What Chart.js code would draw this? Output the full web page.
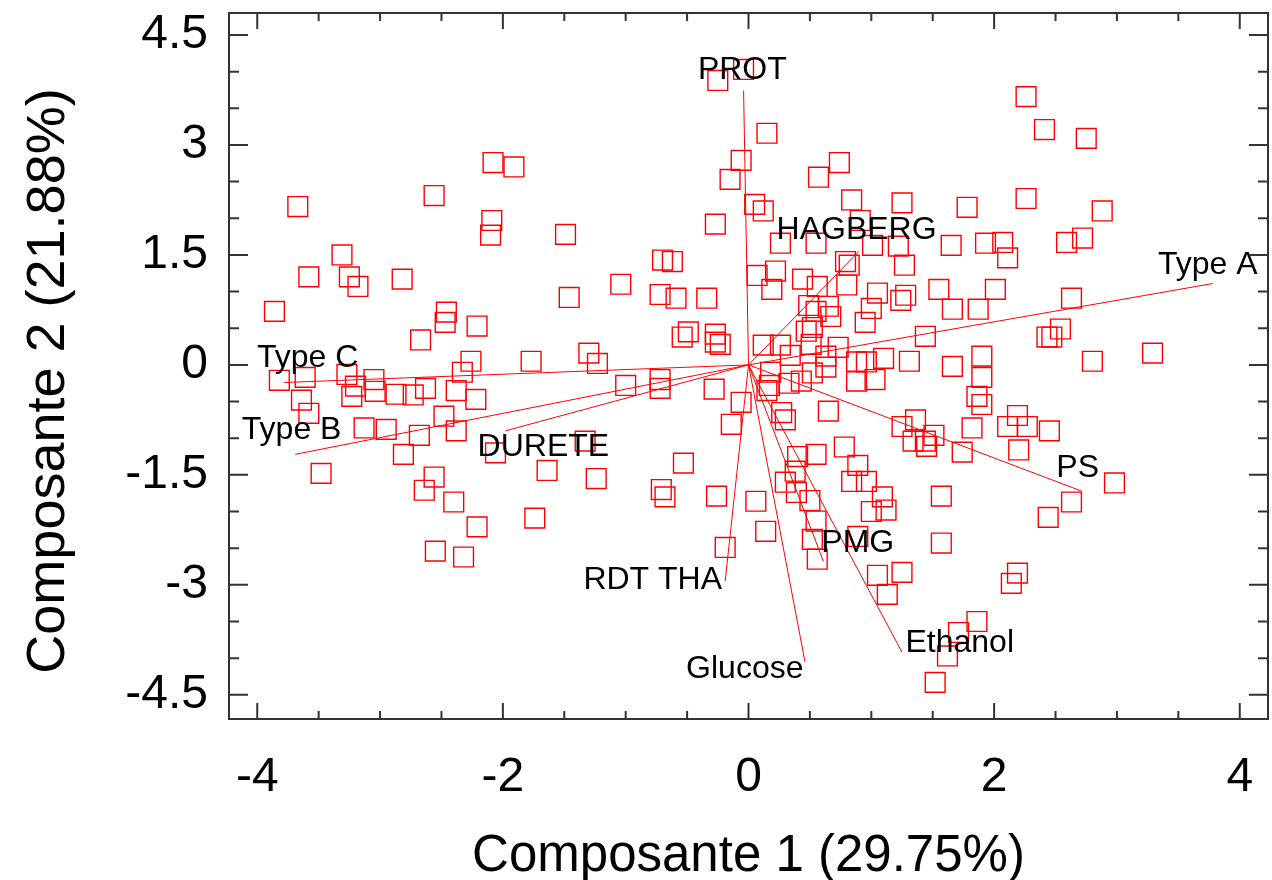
<!DOCTYPE html>
<html lang="fr">
<head>
	<meta charset="UTF-8">
	<title>ACP - biplot</title>
	<script src="https://cdn.jsdelivr.net/npm/chart.js"></script>
	<style>
		body { margin: 0; background: #fff; }
		canvas { display: block; }
	</style>
</head>
<body>
	<canvas id="biplot" width="1272" height="880"></canvas>
<script>
	// scores of the individuals (Composante 1, Composante 2)
	const scoreX = [
		-0.25, -0.04, 0.15, -0.06, -0.15, -0.27, 0.74, 0.57, 0.84, 0.91,
		1.25, 1.78, 0.05, 0.12, 2.26, 2.41, 2.75, 2.26, 2.88, 2.72,
		2.59, 2.07, -3.67, -2.56, -2.08, -1.91, -2.09, -2.10, -1.49, -3.31,
		-3.58, -3.25, -3.18, -2.82, -3.86, -2.46, -2.47, -2.21, -2.67, -2.26,
		-2.33, -3.82, -3.61, -3.27, -3.05, -3.20, -3.23, -3.04, -2.87, -2.73,
		-2.63, -2.38, -2.22, -3.64, -3.58, -3.13, -2.95, -2.48, -2.38, -2.68,
		-2.81, -3.48, -2.56, -2.64, -0.70, -0.62, -1.04, -0.72, -0.59, -0.34,
		-1.46, -0.54, -0.49, -0.27, -0.27, -0.23, -1.30, -1.23, -1.77, -1.00,
		-0.72, -0.72, -0.28, -0.06, -0.14, -2.06, -1.33, -1.64, -0.53, -1.24,
		-0.71, -0.68, -0.26, -1.74, -0.19, -2.40, -2.21, -2.55, -2.32, 0.26,
		0.55, 1.01, 1.22, 1.65, 1.93, 2.11, 0.79, 0.82, 1.27, 0.22,
		0.07, 0.44, 0.19, 0.56, 0.80, 1.05, 1.24, 1.28, 1.55, 1.66,
		2.01, 1.87, 0.49, 0.55, 0.65, 0.67, 1.00, 0.95, 0.52, 0.47,
		0.12, 0.26, 0.34, 0.51, 0.73, 0.63, 1.44, 1.10, 1.31, 0.88,
		0.96, 1.66, 1.90, 0.63, 0.18, 0.43, 0.52, 0.17, 0.15, 0.33,
		0.88, 1.03, 1.90, 1.86, 1.90, 0.65, 0.27, 0.30, 1.25, 1.36,
		1.34, 1.44, 1.51, 1.45, 1.82, 2.11, 1.74, 0.78, 0.55, 0.40,
		0.89, 0.38, 0.30, 0.84, 0.96, 2.63, 2.54, 2.43, 2.47, 2.80,
		3.29, 2.19, 2.27, 2.45, 2.20, 2.98, 2.63, 2.44, 2.19, 2.14,
		0.06, 0.14, 0.39, 0.50, 0.55, 0.52, 0.56, 1.09, 1.00, 1.12,
		0.89, 1.57, 1.57, 1.05, 1.25, 1.13, 1.86, 1.71, 1.62, 1.52
	];
	const scoreY = [
		3.88, 4.03, 3.16, 2.79, 2.53, 1.92, 2.76, 2.56, 2.25, 1.97,
		2.21, 2.15, 2.19, 2.10, 3.66, 3.21, 3.09, 2.27, 2.10, 1.73,
		1.67, 1.67, 2.16, 2.31, 2.76, 2.70, 1.97, 1.77, 1.78, 1.50,
		1.20, 1.20, 1.07, 1.17, 0.73, 0.72, 0.58, 0.53, 0.34, 0.05,
		-0.10, -0.21, -0.17, -0.13, -0.20, -0.29, -0.43, -0.36, -0.40, -0.41,
		-0.32, -0.35, -0.47, -0.48, -0.66, -0.86, -0.88, -0.70, -0.90, -0.96,
		-1.22, -1.48, -1.53, -1.71, 1.43, 1.41, 1.10, 0.96, 0.91, 0.91,
		0.92, 0.38, 0.45, 0.42, 0.31, 0.28, 0.16, 0.02, 0.05, -0.28,
		-0.20, -0.32, -0.33, -0.51, -0.81, -1.20, -1.04, -1.44, -1.34, -1.55,
		-1.70, -1.80, -1.79, -2.09, -2.49, -1.87, -2.21, -2.54, -2.62, 1.66,
		1.66, 1.63, 1.62, 1.63, 1.66, 1.46, 1.41, 1.36, 1.36, 1.28,
		1.22, 1.17, 1.03, 1.07, 1.09, 0.98, 0.88, 0.95, 1.03, 0.76,
		1.03, 0.76, 0.81, 0.73, 0.80, 0.66, 0.77, 0.58, 0.51, 0.46,
		0.27, 0.27, 0.13, 0.28, 0.24, 0.12, 0.39, 0.09, 0.05, 0.04,
		0.04, -0.02, 0.12, -0.03, -0.10, -0.22, -0.11, -0.28, -0.35, -0.25,
		-0.22, -0.20, -0.17, -0.43, -0.54, -0.63, -0.65, -0.75, -0.84, -0.75,
		-1.04, -1.04, -0.96, -1.11, -0.86, -0.84, -1.19, -1.12, -1.22, -1.25,
		-1.37, -1.45, -1.60, -1.59, -1.59, 0.91, 0.49, 0.38, 0.38, 0.05,
		0.16, -0.69, -0.84, -0.90, -1.16, -1.61, -1.87, -2.08, -2.84, -2.98,
		-1.86, -2.27, -1.74, -1.85, -2.13, -2.38, -2.65, -1.80, -2.00, -1.98,
		-2.34, -1.79, -2.43, -2.87, -2.83, -3.13, -3.50, -3.65, -3.97, -4.33
	];

	// variable vectors (loadings) and where their names sit
	const varNames = ['PROT', 'HAGBERG', 'Type A', 'PS', 'Ethanol', 'Glucose', 'PMG', 'RDT THA', 'DURETE', 'Type B', 'Type C'];
	const varX = [-0.04, 0.90, 3.78, 2.71, 1.25, 0.46, 0.61, -0.19, -1.98, -3.69, -3.78];
	const varY = [3.74, 1.55, 1.11, -1.72, -3.92, -4.05, -2.68, -2.95, -0.90, -1.22, -0.24];
	const nameX = [-0.05, 0.88, 3.74, 2.68, 1.72, -0.03, 0.89, -0.78, -1.67, -3.72, -3.59];
	const nameY = [4.02, 1.84, 1.36, -1.41, -3.80, -4.15, -2.43, -2.94, -1.12, -0.89, 0.09];

	const xTicks = [-4, -2, 0, 2, 4];
	const yTicks = [-4.5, -3, -1.5, 0, 1.5, 3, 4.5];

	const RED = 'rgb(255, 0, 0)';
	const FONT = '"Liberation Sans", Arial, sans-serif';

	const datasets = [{
		label: 'Individus',
		data: scoreX.map((x, i) => ({ x: x, y: scoreY[i] })),
		pointStyle: 'rect',
		pointRadius: 14,
		borderColor: RED,
		borderWidth: 1.4,
		backgroundColor: 'rgba(0,0,0,0)',
		showLine: false
	}];
	varNames.forEach((name, i) => {
		datasets.push({
			label: name,
			data: [{ x: 0, y: 0 }, { x: varX[i], y: varY[i] }],
			showLine: true,
			borderColor: RED,
			borderWidth: 1,
			pointRadius: 0
		});
	});

	// frame, inward ticks on four sides and variable names
	const decor = {
		id: 'decor',
		afterDatasetsDraw(chart) {
			const { ctx, chartArea: a, scales: { x, y } } = chart;
			ctx.save();
			ctx.font = '32px ' + FONT;
			ctx.fillStyle = '#000';
			ctx.textAlign = 'center';
			ctx.textBaseline = 'middle';
			varNames.forEach((n, i) => {
				ctx.fillText(n, x.getPixelForValue(nameX[i]), y.getPixelForValue(nameY[i]));
			});

			ctx.strokeStyle = '#333';
			ctx.lineWidth = 2;
			ctx.strokeRect(a.left, a.top, a.right - a.left, a.bottom - a.top);

			ctx.beginPath();
			for (let v = -4; v <= 4; v += 0.5) {
				const px = x.getPixelForValue(v);
				const len = v % 2 === 0 ? 16 : 8;
				ctx.moveTo(px, a.bottom); ctx.lineTo(px, a.bottom - len);
				ctx.moveTo(px, a.top); ctx.lineTo(px, a.top + len);
			}
			for (let v = -4.5; v <= 4.5; v += 0.5) {
				const py = y.getPixelForValue(v);
				const len = v % 1.5 === 0 ? 19 : 10;
				ctx.moveTo(a.left, py); ctx.lineTo(a.left + len, py);
				ctx.moveTo(a.right, py); ctx.lineTo(a.right - len, py);
			}
			ctx.stroke();
			ctx.restore();
		}
	};

	const ctx = document.getElementById('biplot').getContext('2d');
	new Chart(ctx, {
		type: 'scatter',
		data: { datasets: datasets },
		plugins: [decor],
		options: {
			responsive: false,
			animation: false,
			layout: { autoPadding: false, padding: { top: 13, right: 4, left: 0, bottom: 0 } },
			plugins: {
				legend: { display: false },
				tooltip: { enabled: false }
			},
			scales: {
				x: {
					type: 'linear',
					min: -4.23,
					max: 4.23,
					afterBuildTicks: s => { s.ticks = xTicks.map(v => ({ value: v })); },
					afterFit: s => { s.height = 161; s.paddingLeft = 0; s.paddingRight = 0; },
					grid: { display: false, drawTicks: false },
					border: { display: false },
					ticks: {
						color: '#000',
						font: { family: FONT, size: 48 },
						padding: 30,
						callback: v => String(v)
					},
					title: {
						display: true,
						text: 'Composante 1 (29.75%)',
						color: '#000',
						font: { family: FONT, size: 51, lineHeight: 0.9 },
						padding: { top: 0, bottom: 0 }
					}
				},
				y: {
					type: 'linear',
					min: -4.83,
					max: 4.8,
					afterBuildTicks: s => { s.ticks = yTicks.map(v => ({ value: v })); },
					afterFit: s => { s.width = 229; s.paddingTop = 0; s.paddingBottom = 0; },
					grid: { display: false, drawTicks: false },
					border: { display: false },
					ticks: {
						color: '#000',
						font: { family: FONT, size: 48 },
						padding: 21,
						callback: v => String(v)
					},
					title: {
						display: true,
						text: 'Composante 2 (21.88%)  ',
						color: '#000',
						font: { family: FONT, size: 54, lineHeight: 1 },
						padding: { top: 22, bottom: 0 }
					}
				}
			}
		}
	});
</script>
</body>
</html>
